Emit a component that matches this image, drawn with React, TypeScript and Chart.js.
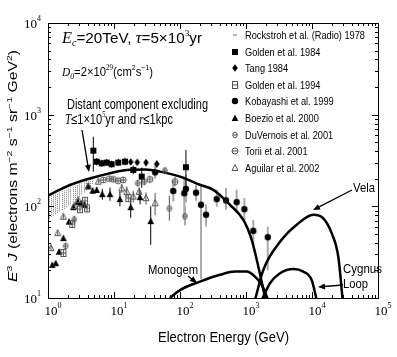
import React, { useEffect, useRef } from "react";
import { Chart, registerables } from "chart.js";
Chart.register(...registerables);

// ---- model curves (energy GeV, E^3 J) ----
const distantE = [1, 2.15, 6.14, 17.5, 30, 50, 100, 200, 320, 572, 912, 1220, 1537, 1941, 2100];
const distantV = [131, 171, 216, 250, 252, 239, 211, 172, 151, 104, 71, 43, 22, 10, 7];
const monogemE = [70, 100, 201, 404, 681, 1024, 1368, 1730, 2103, 2300];
const monogemV = [10, 12.2, 15.1, 17.9, 19.4, 19.4, 17.1, 13.9, 10, 8];
const velaE = [1368, 1828, 3275, 5866, 10480, 14830, 19870, 25060, 29160];
const velaV = [9.5, 20.2, 41, 63, 81, 74, 51, 28, 9.5];
const cygnusE = [1730, 2311, 3275, 5210, 7380, 9890, 11780];
const cygnusV = [9.5, 14.5, 18.6, 20.7, 19.4, 15.7, 9.5];

// ---- data sets ----
const rockE = [1.02, 1.1, 1.19, 1.28, 1.38, 1.49, 1.61, 1.74, 1.88, 2.03, 2.19, 2.36, 2.55, 2.75, 2.97, 3.2, 3.46, 3.73, 4.03, 4.35, 4.7];
const rockLo = [74, 76, 79, 82, 85, 88, 91, 94, 98, 102, 107, 112, 117, 122, 128, 135, 142, 150, 158, 167, 176];
const rockHi = [126, 130, 134, 137, 140, 143, 146, 150, 153, 157, 161, 165, 169, 173, 177, 181, 185, 189, 194, 199, 204];

const golden84E = [4.86, 5.46, 6.5, 7.75, 9.2, 11.6, 14.7, 19.6, 26.3, 123];
const golden84V = [405, 307, 295, 300, 288, 300, 307, 250, 211, 267];
const golden84Lo = [239, 280, 270, 275, 265, 275, 280, 225, 160, 164];
const golden84Hi = [575, 335, 322, 328, 315, 330, 338, 278, 265, 412];

const tangE = [17.9, 22.5, 30.5, 44.4];
const tangV = [305, 302, 300, 290];
const tangLo = [285, 282, 278, 265];
const tangHi = [325, 322, 322, 315];

const golden94E = [1.71, 2.33, 3.05, 3.64, 3.9, 16.5];
const golden94V = [31, 64, 93, 115, 95, 123];
const golden94Lo = [28, 58, 85, 105, 86, 112];
const golden94Hi = [34, 70, 101, 125, 104, 134];

const kobaE = [42, 79, 116, 123, 175, 208, 248, 360, 498, 722, 944, 1290, 2137];
const kobaV = [235, 147, 139, 155, 141, 104, 81, 120, 116, 111, 93, 54, 46];
const kobaLo = [200, 113, 71, 110, 115, 16, 60, 99, 92, 85, 71, 37, 20];
const kobaHi = [280, 194, 211, 220, 170, 165, 105, 152, 158, 152, 123, 71, 60];

const boezioE = [1.16, 1.31, 1.47, 1.71, 2.08, 2.42, 2.82, 3.16, 3.55, 4.08, 4.75, 5.46, 6.65, 8.7, 12.3, 17.9, 24.8, 36];
const boezioV = [23, 24, 32, 45, 68, 98, 112, 108, 104, 167, 148, 151, 136, 136, 120, 98, 126, 69];
const boezioLo = [22, 23, 30, 42, 64, 92, 105, 101, 97, 155, 138, 140, 118, 115, 100, 75, 105, 38];
const boezioHi = [24, 25, 34, 48, 72, 104, 119, 115, 111, 179, 158, 162, 155, 160, 145, 125, 150, 100];

const duverE = [1.85, 2.5, 22.9, 28.8, 59, 69, 119];
const duverV = [37, 72, 179, 186, 245, 95, 78];
const duverLo = [34, 66, 165, 170, 225, 70, 62];
const duverHi = [40, 78, 195, 203, 268, 130, 100];

const toriiE = [6.9, 8.5, 9.8, 11.5, 13.8, 35, 84];
const toriiV = [194, 200, 197, 190, 194, 197, 186];
const toriiLo = [182, 188, 185, 178, 180, 180, 165];
const toriiHi = [206, 212, 209, 202, 208, 215, 210];

const aguilarE = [1.11, 1.4, 1.71, 2.5, 2.88, 4.08, 5.78, 13.1, 15.6, 19.6, 24, 30.5, 42];
const aguilarV = [35, 51, 77, 101, 117, 164, 186, 157, 144, 128, 144, 123, 108];
const aguilarLo = [33, 48, 73, 96, 111, 156, 177, 140, 125, 110, 128, 105, 80];
const aguilarHi = [37, 54, 81, 106, 123, 172, 195, 175, 165, 148, 162, 142, 140];

const legendLabels = [
  "Rockstroh et al. (Radio) 1978",
  "Golden et al. 1984",
  "Tang 1984",
  "Golden et al. 1994",
  "Kobayashi et al. 1999",
  "Boezio et al. 2000",
  "DuVernois et al. 2001",
  "Torii et al. 2001",
  "Aguilar et al. 2002",
];
const legendMarkers = ["dash", "fsquare", "fdiamond", "osquare", "fcircle", "ftriangle", "ocircleS", "ocircleL", "otriangle"];

const xDecades = [0, 1, 2, 3, 4, 5];
const yDecades = [1, 2, 3, 4];

const SER = '"Liberation Serif", "Times New Roman", serif';
const SANS = '"Liberation Sans", Arial, sans-serif';

function makeMarker(kind: string): HTMLCanvasElement {
  const c = document.createElement("canvas");
  c.width = 10;
  c.height = 10;
  const g = c.getContext("2d")!;
  const m = 5;
  g.lineWidth = 1;
  g.fillStyle = "#000";
  g.strokeStyle = "#555";
  g.beginPath();
  switch (kind) {
    case "fsquare":
      g.fillRect(2, 2, 6, 6);
      break;
    case "fdiamond":
      g.moveTo(m, 1.2); g.lineTo(m + 2.8, m); g.lineTo(m, 8.8); g.lineTo(m - 2.8, m); g.closePath(); g.fill();
      break;
    case "fcircle":
      g.arc(m, m, 3.2, 0, Math.PI * 2); g.fill();
      break;
    case "ftriangle":
      g.moveTo(m, 1.5); g.lineTo(m + 3.3, 8); g.lineTo(m - 3.3, 8); g.closePath(); g.fill();
      break;
    case "osquare":
      g.strokeRect(2.5, 1.5, 5, 7); g.moveTo(2.5, 5); g.lineTo(7.5, 5); g.stroke();
      break;
    case "ocircleS":
      g.ellipse(m, m, 2.2, 2.8, 0, 0, Math.PI * 2); g.moveTo(2.8, 5); g.lineTo(7.2, 5); g.stroke();
      break;
    case "ocircleL":
      g.arc(m, m, 3, 0, Math.PI * 2); g.moveTo(2, 5); g.lineTo(8, 5); g.stroke();
      break;
    case "otriangle":
      g.moveTo(m, 1.5); g.lineTo(m + 3, 7.5); g.lineTo(m - 3, 7.5); g.closePath(); g.stroke();
      break;
    case "dash":
      g.strokeStyle = "#666"; g.moveTo(3, 5); g.lineTo(7, 5); g.stroke();
      break;
  }
  return c;
}

type Seg = { t: string; f: string; dy?: number };
function richWidth(ctx: CanvasRenderingContext2D, segs: Seg[]) {
  let w = 0;
  for (const s of segs) { ctx.font = s.f; w += ctx.measureText(s.t).width; }
  return w;
}
// draws segments starting at x; if targetW given, compresses horizontally to fit
function rich(ctx: CanvasRenderingContext2D, x: number, y: number, segs: Seg[], targetW?: number) {
  const natural = richWidth(ctx, segs);
  const sx = targetW ? targetW / natural : 1;
  ctx.save();
  ctx.translate(x, y);
  ctx.scale(sx, 1);
  let cx = 0;
  for (const s of segs) {
    ctx.font = s.f;
    ctx.fillText(s.t, cx, s.dy || 0);
    cx += ctx.measureText(s.t).width;
  }
  ctx.restore();
  return natural * sx;
}
function arrow(ctx: CanvasRenderingContext2D, x1: number, y1: number, x2: number, y2: number) {
  ctx.save();
  ctx.strokeStyle = "#000";
  ctx.fillStyle = "#000";
  ctx.lineWidth = 1.3;
  const a = Math.atan2(y2 - y1, x2 - x1);
  const L = 7, W = 3;
  ctx.beginPath();
  ctx.moveTo(x1, y1);
  ctx.lineTo(x2 - Math.cos(a) * 3, y2 - Math.sin(a) * 3);
  ctx.stroke();
  ctx.beginPath();
  ctx.moveTo(x2, y2);
  ctx.lineTo(x2 - L * Math.cos(a) + W * Math.sin(a), y2 - L * Math.sin(a) - W * Math.cos(a));
  ctx.lineTo(x2 - L * Math.cos(a) - W * Math.sin(a), y2 - L * Math.sin(a) + W * Math.cos(a));
  ctx.closePath();
  ctx.fill();
  ctx.restore();
}

function pts(e: number[], v: number[]) {
  return e.map((x, i) => ({ x, y: v[i] }));
}
function errs(lo: number[], hi: number[]) {
  return lo.map((l, i) => [l, hi[i]]);
}

const markers: Record<string, HTMLCanvasElement> = {};

const decor = {
  id: "decor",
  beforeDatasetsDraw(chart: any) {
    const ctx: CanvasRenderingContext2D = chart.ctx;
    const { left, right, top, bottom } = chart.chartArea;
    const ys = chart.scales.y;
    const xs = chart.scales.x;
    ctx.save();
    ctx.beginPath();
    ctx.rect(left, top, right - left, bottom - top);
    ctx.clip();
    ctx.strokeStyle = "#777";
    ctx.lineWidth = 1;
    ctx.setLineDash([1, 1]);
    rockE.forEach((e, i) => {
      const x = Math.round(xs.getPixelForValue(e)) + 0.5;
      ctx.beginPath();
      ctx.moveTo(x, ys.getPixelForValue(rockLo[i]));
      ctx.lineTo(x, ys.getPixelForValue(rockHi[i]));
      ctx.stroke();
    });
    ctx.setLineDash([]);
    chart.data.datasets.forEach((ds: any, i: number) => {
      if (!ds.err) return;
      const meta = chart.getDatasetMeta(i);
      ctx.strokeStyle = ds.errColor || "#000";
      ctx.lineWidth = ds.errWidth || 1;
      ds.err.forEach((e: number[], j: number) => {
        const p = meta.data[j];
        if (!p) return;
        ctx.beginPath();
        ctx.moveTo(p.x, ys.getPixelForValue(e[0]));
        ctx.lineTo(p.x, ys.getPixelForValue(e[1]));
        ctx.stroke();
      });
    });
    ctx.restore();
  },
  afterDraw(chart: any) {
    const ctx: CanvasRenderingContext2D = chart.ctx;
    const { left, right, top, bottom } = chart.chartArea;
    const xs = chart.scales.x;
    const ys = chart.scales.y;
    ctx.save();
    ctx.strokeStyle = "#000";
    ctx.lineWidth = 1;
    ctx.strokeRect(left + 0.5, top + 0.5, right - left, bottom - top);
    ctx.beginPath();
    for (const d of xDecades) {
      for (let k = 1; k <= 9; k++) {
        const v = k * Math.pow(10, d);
        if (v > 1e5) break;
        const x = Math.round(xs.getPixelForValue(v)) + 0.5;
        const len = k === 1 ? 6 : 3;
        ctx.moveTo(x, bottom); ctx.lineTo(x, bottom - len);
        ctx.moveTo(x, top); ctx.lineTo(x, top + len);
      }
    }
    for (const d of yDecades) {
      for (let k = 1; k <= 9; k++) {
        const v = k * Math.pow(10, d);
        if (v > 1e4) break;
        const y = Math.round(ys.getPixelForValue(v)) + 0.5;
        const len = k === 1 ? 6 : 3;
        ctx.moveTo(left, y); ctx.lineTo(left + len, y);
        ctx.moveTo(right, y); ctx.lineTo(right - len, y);
      }
    }
    ctx.stroke();
    ctx.fillStyle = "#000";
    ctx.textBaseline = "alphabetic";
    ctx.textAlign = "left";
    for (const d of xDecades) {
      const x = xs.getPixelForValue(Math.pow(10, d));
      rich(ctx, x - 3.5, 315, [
        { t: "10", f: `13px ${SER}` },
        { t: String(d), f: `8px ${SER}`, dy: -7 },
      ]);
    }
    for (const d of yDecades) {
      const y = ys.getPixelForValue(Math.pow(10, d));
      const segs = [
        { t: "10", f: `13px ${SER}` },
        { t: String(d), f: `8px ${SER}`, dy: -7 },
      ];
      const w = richWidth(ctx, segs);
      rich(ctx, 41 - w, y + 5, segs);
    }
    // axis titles
    rich(ctx, 158, 342, [{ t: "Electron Energy (GeV)", f: `14px ${SANS}` }], 131);
    const yt: Seg[] = [
      { t: "E", f: `italic 12px ${SANS}` },
      { t: "3", f: `8px ${SANS}`, dy: -5 },
      { t: " ", f: `12px ${SANS}` },
      { t: "J", f: `italic 12px ${SANS}` },
      { t: " (electrons m", f: `12px ${SANS}` },
      { t: "−2", f: `8px ${SANS}`, dy: -5 },
      { t: " s", f: `12px ${SANS}` },
      { t: "−1", f: `8px ${SANS}`, dy: -5 },
      { t: " sr", f: `12px ${SANS}` },
      { t: "−1", f: `8px ${SANS}`, dy: -5 },
      { t: " GeV", f: `12px ${SANS}` },
      { t: "2", f: `8px ${SANS}`, dy: -5 },
      { t: ")", f: `12px ${SANS}` },
    ];
    ctx.save();
    ctx.translate(17, 282);
    ctx.rotate(-Math.PI / 2);
    rich(ctx, 0, 0, yt, 232);
    ctx.restore();
    // annotations
    rich(ctx, 62, 43, [
      { t: "E", f: `italic 16px ${SER}` },
      { t: "c", f: `italic 10px ${SER}`, dy: 3 },
      { t: "=20TeV, ", f: `15px ${SANS}` },
      { t: "τ", f: `italic 16px ${SER}` },
      { t: "=5×10", f: `15px ${SANS}` },
      { t: "3", f: `9px ${SER}`, dy: -7 },
      { t: "yr", f: `15px ${SANS}` },
    ], 140);
    rich(ctx, 62, 76, [
      { t: "D", f: `italic 13px ${SER}` },
      { t: "0", f: `italic 9px ${SER}`, dy: 3 },
      { t: "=2×10", f: `13px ${SANS}` },
      { t: "29", f: `8px ${SER}`, dy: -6 },
      { t: "(cm", f: `13px ${SANS}` },
      { t: "2", f: `8px ${SANS}`, dy: -6 },
      { t: "s", f: `13px ${SANS}` },
      { t: "−1", f: `8px ${SANS}`, dy: -6 },
      { t: ")", f: `13px ${SANS}` },
    ], 91);
    rich(ctx, 67, 109, [{ t: "Distant component excluding", f: `14px ${SANS}` }], 141);
    rich(ctx, 65, 124, [
      { t: "T", f: `italic 14px ${SER}` },
      { t: "≤1×10", f: `14px ${SANS}` },
      { t: "5", f: `8px ${SER}`, dy: -7 },
      { t: "yr and ", f: `14px ${SANS}` },
      { t: "r", f: `italic 14px ${SER}` },
      { t: "≤1kpc", f: `14px ${SANS}` },
    ], 108);
    arrow(ctx, 82, 130, 89, 172);
    rich(ctx, 353, 192, [{ t: "Vela", f: `13px ${SANS}` }], 22);
    arrow(ctx, 352, 190, 313, 210);
    rich(ctx, 343, 273, [{ t: "Cygnus", f: `13px ${SANS}` }], 39);
    rich(ctx, 343, 288, [{ t: "Loop", f: `13px ${SANS}` }], 25);
    arrow(ctx, 343, 285, 318, 287);
    rich(ctx, 148, 274, [{ t: "Monogem", f: `13px ${SANS}` }], 50);
    arrow(ctx, 188, 276, 197, 283);
    // legend
    ctx.font = `11px ${SANS}`;
    const sx = 120 / ctx.measureText(legendLabels[0]).width;
    legendLabels.forEach((lab, i) => {
      const y = 35 + i * 16.6;
      const mk = markers[legendMarkers[i]];
      ctx.drawImage(mk, 235 - mk.width / 2, Math.round(y) - mk.height / 2);
      ctx.font = `11px ${SANS}`;
      const w = ctx.measureText(lab).width * sx;
      rich(ctx, 245, y + 4, [{ t: lab, f: `11px ${SANS}` }], w);
    });
    ctx.restore();
  },
};

export default function App() {
  const ref = useRef<HTMLCanvasElement>(null);
  useEffect(() => {
    for (const k of legendMarkers) markers[k] = makeMarker(k);
    const curve = (e: number[], v: number[]) => ({
      data: pts(e, v),
      showLine: true,
      borderColor: "#000",
      borderWidth: 2.5,
      pointRadius: 0,
      cubicInterpolationMode: "monotone",
    });
    const series = (e: number[], v: number[], lo: number[], hi: number[], mk: string, extra: any = {}) => ({
      data: pts(e, v),
      showLine: false,
      pointStyle: markers[mk],
      pointRadius: 3,
      err: errs(lo, hi),
      ...extra,
    });
    const chart = new Chart(ref.current!, {
      type: "scatter",
      data: {
        datasets: [
          series(aguilarE, aguilarV, aguilarLo, aguilarHi, "otriangle", { errColor: "#555" }),
          series(toriiE, toriiV, toriiLo, toriiHi, "ocircleL", { errColor: "#555" }),
          series(duverE, duverV, duverLo, duverHi, "ocircleS", { errColor: "#555" }),
          series(golden94E, golden94V, golden94Lo, golden94Hi, "osquare", { errColor: "#555" }),
          series(boezioE, boezioV, boezioLo, boezioHi, "ftriangle"),
          series(kobaE, kobaV, kobaLo, kobaHi, "fcircle", { errColor: "#aaa", errWidth: 2 }),
          series(tangE, tangV, tangLo, tangHi, "fdiamond"),
          series(golden84E, golden84V, golden84Lo, golden84Hi, "fsquare"),
          curve(distantE, distantV),
          curve(monogemE, monogemV),
          curve(velaE, velaV),
          curve(cygnusE, cygnusV),
        ] as any,
      },
      options: {
        responsive: false,
        animation: false,
        events: [],
        layout: { padding: { left: 48, top: 23, right: 19, bottom: 59 } },
        scales: {
          x: { type: "logarithmic", min: 1, max: 1e5, display: false },
          y: { type: "logarithmic", min: 10, max: 1e4, display: false },
        },
        plugins: { legend: { display: false }, tooltip: { enabled: false } },
      },
      plugins: [decor],
    });
    return () => chart.destroy();
  }, []);
  return (
    <div style={{ position: "fixed", left: 0, top: 0, width: 397, height: 357, background: "#fff" }}>
      <canvas ref={ref} width={397} height={357} />
    </div>
  );
}
